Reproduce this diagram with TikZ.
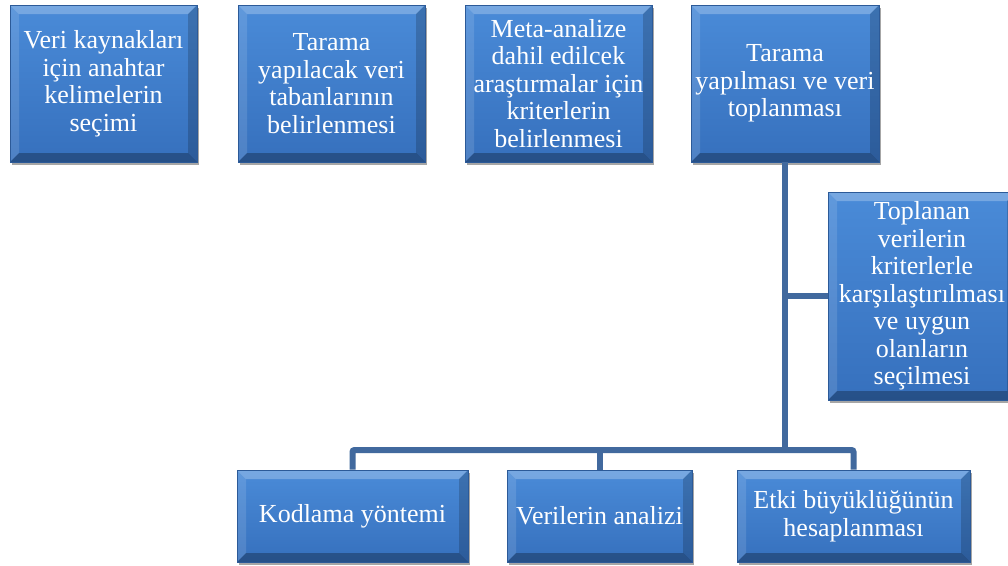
\documentclass[tikz,border=0pt]{standalone}
\usepackage{fontspec}
\setmainfont{Liberation Serif}
\usetikzlibrary{positioning}
\usetikzlibrary{shadows}
\definecolor{boxtop}{RGB}{74, 139, 216}
\definecolor{boxbot}{RGB}{54, 112, 189}
\definecolor{boxedge}{RGB}{44, 90, 152}
\definecolor{connblue}{RGB}{65, 105, 158}

\newcommand{\boxbevel}{%
  \coordinate (bvnw) at (path picture bounding box.north west);
  \coordinate (bvne) at (path picture bounding box.north east);
  \coordinate (bvsw) at (path picture bounding box.south west);
  \coordinate (bvse) at (path picture bounding box.south east);
  \fill[white, opacity=0.25] (bvnw) -- (bvne) -- ([shift={(-9pt,-9pt)}]bvne) -- ([shift={(9pt,-9pt)}]bvnw) -- cycle;
  \fill[white, opacity=0.12] (bvnw) -- (bvsw) -- ([shift={(9pt,9pt)}]bvsw) -- ([shift={(9pt,-9pt)}]bvnw) -- cycle;
  \fill[black, opacity=0.18] (bvne) -- (bvse) -- ([shift={(-9pt,9pt)}]bvse) -- ([shift={(-9pt,-9pt)}]bvne) -- cycle;
  \fill[black, opacity=0.28] (bvsw) -- (bvse) -- ([shift={(-9pt,9pt)}]bvse) -- ([shift={(9pt,9pt)}]bvsw) -- cycle;
}

\tikzset{
  stepbox/.style={rectangle, inner sep=0pt, align=center, text=white,
    font=\fontsize{26}{27.5}\selectfont,
    top color=boxtop, bottom color=boxbot, draw=boxedge, line width=0.6pt,
    drop shadow={shadow xshift=1.5pt, shadow yshift=-2.5pt, opacity=0.35, fill=black},
    path picture={\boxbevel}},
  stepconn/.style={draw=connblue, line width=6pt, rounded corners=2pt}
}

\begin{document}
\begin{tikzpicture}[x=1pt, y=1pt]
\useasboundingbox (0,0) rectangle (1008,-565);
\clip (0,0) rectangle (1008,-565);
\fill[white] (0,0) rectangle (1008,-565);
% top row
\node (kelime) [stepbox, minimum width=187pt, minimum height=157pt] at (103.5pt, -83.5pt) {Veri kaynakları\\için anahtar\\kelimelerin\\seçimi};
\node (veritabani) [stepbox, minimum width=187pt, minimum height=157pt] at (331.5pt, -83.5pt) {Tarama\\yapılacak veri\\tabanlarının\\belirlenmesi};
\node (kriter) [stepbox, minimum width=187pt, minimum height=157pt] at (558.5pt, -83.5pt) {Meta-analize\\dahil edilcek\\araştırmalar için\\kriterlerin\\belirlenmesi};
\node (tarama) [stepbox, minimum width=188pt, minimum height=157pt] at (785pt, -83.5pt) {Tarama\\yapılması ve veri\\toplanması};
% side box
\node (secim) [stepbox, minimum width=188pt, minimum height=208pt] at (922pt, -296pt) {Toplanan\\verilerin\\kriterlerle\\karşılaştırılması\\ve uygun\\olanların\\seçilmesi};
% bottom row
\node (kodlama) [stepbox, minimum width=231pt, minimum height=92pt] at (352.5pt, -516pt) {Kodlama yöntemi};
\node (analiz) [stepbox, minimum width=185pt, minimum height=92pt] at (599.5pt, -516pt) {Verilerin analizi};
\node (etki) [stepbox, minimum width=233pt, minimum height=92pt] at (853.5pt, -516pt) {Etki büyüklüğünün\\hesaplanması};
% connectors
\coordinate (kol) at (tarama.south |- secim.west);
\coordinate (dal) at (785pt, -450pt);
\draw [stepconn] (tarama.south) -- (dal);
\draw [stepconn] (kol) -- (secim.west);
\draw [stepconn] (kodlama.north) |- (dal) -| (etki.north);
\draw [stepconn] (analiz.north) -- (analiz.north |- dal);
\end{tikzpicture}
\end{document}
